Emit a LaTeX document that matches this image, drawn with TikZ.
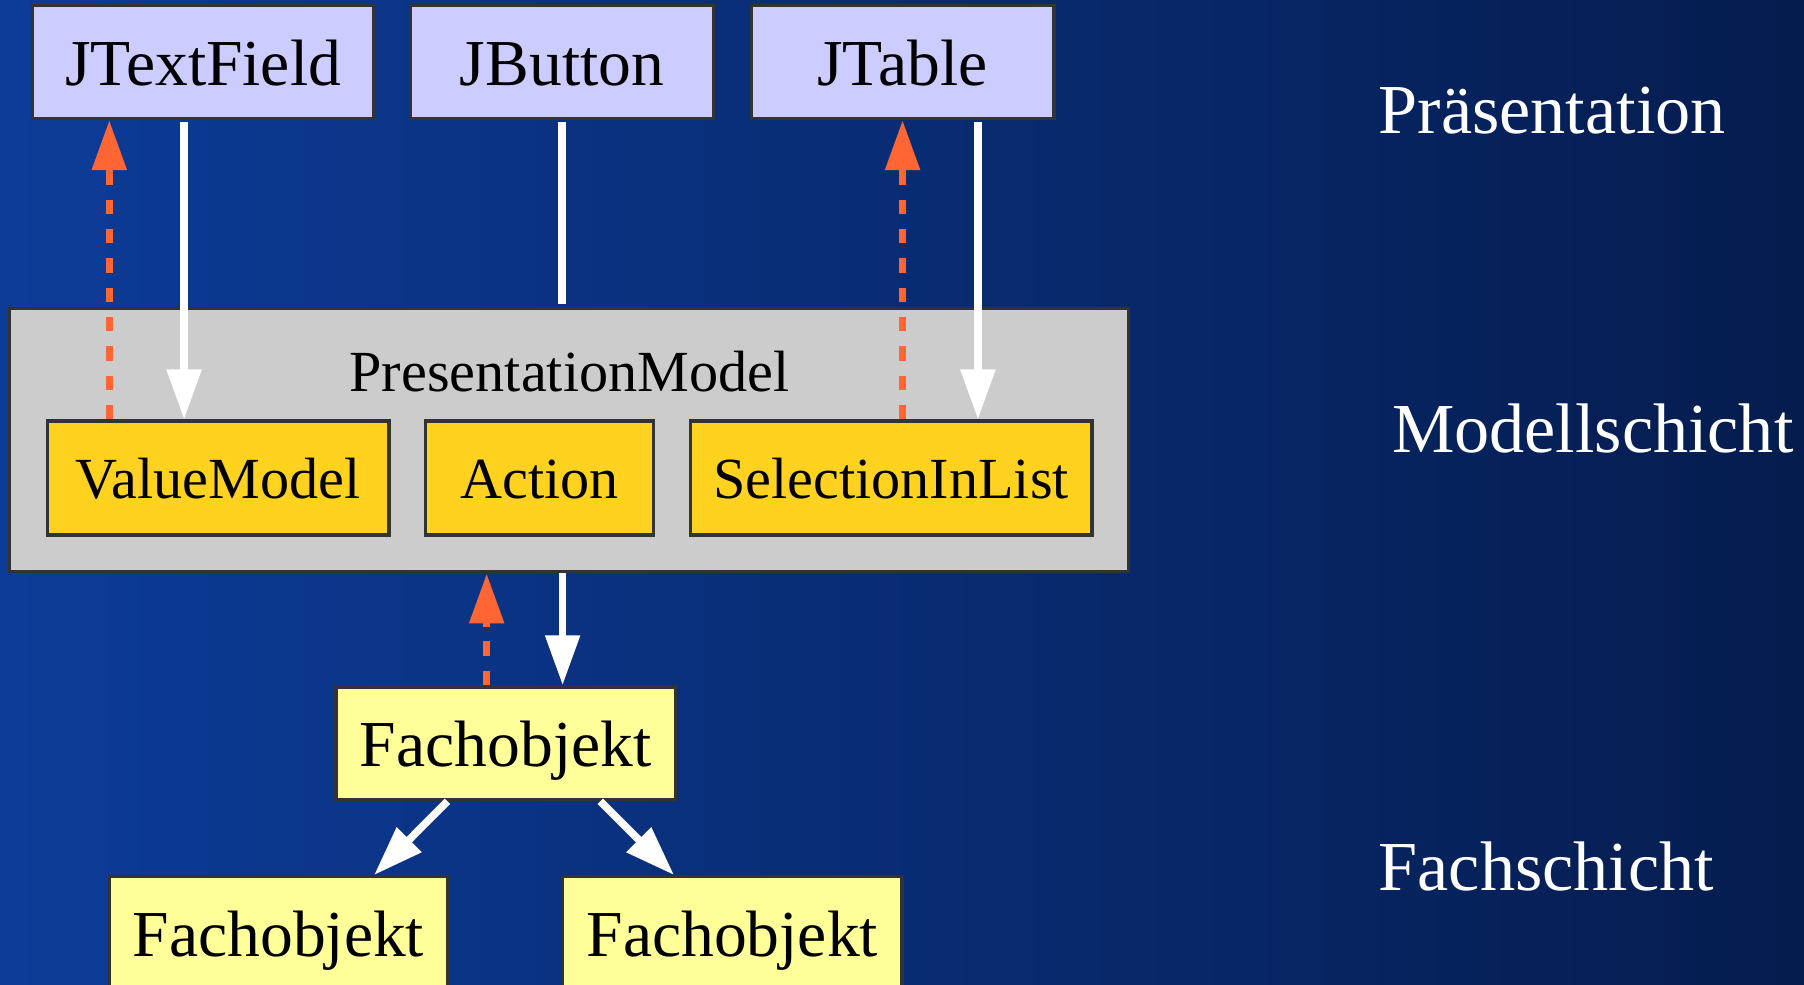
\documentclass[tikz,border=0pt]{standalone}
\usepackage{fontspec}
\setmainfont{Liberation Serif}
\usetikzlibrary{arrows.meta,calc}

\definecolor{bgleft}{RGB}{12,60,152}
\definecolor{bgright}{RGB}{5,28,78}
\definecolor{viewfill}{RGB}{204,204,255}
\definecolor{modelfill}{RGB}{204,204,204}
\definecolor{partfill}{RGB}{255,210,32}
\definecolor{domainfill}{RGB}{255,255,153}
\definecolor{boxline}{RGB}{51,51,51}
\definecolor{notifycol}{RGB}{255,102,51}

\begin{document}
\begin{tikzpicture}[x=0.5pt,y=-0.5pt,
  box/.style={draw=boxline, line width=1.45pt, inner sep=0pt},
  bigtext/.style={font=\fontsize{28.5}{30}\selectfont, text height=24pt, text depth=3.5pt},
  smalltext/.style={font=\fontsize{25.3}{27}\selectfont, text height=22pt, text depth=3.8pt},
  viewbox/.style={box, bigtext, fill=viewfill, minimum height=49pt},
  partbox/.style={box, smalltext, fill=partfill, minimum height=49.5pt},
  domainbox/.style={box, bigtext, fill=domainfill, minimum height=49pt},
  layertext/.style={text=white, inner sep=0pt, anchor=base west,
    font=\fontsize{30.5}{32}\selectfont},
  tip/.style={-{Triangle[width=14.5pt,length=21.7pt]}},
  flow/.style={draw=white, line width=3.3pt},
  flowarrow/.style={flow, tip},
  notifyarrow/.style={draw=notifycol, line width=3.3pt, tip,
    dash pattern=on 6.25pt off 6.5pt}
]
\useasboundingbox (0,0) rectangle (1568,856);
\clip (0,0) rectangle (1568,856);
\shade[left color=bgleft, right color=bgright] (0,0) rectangle (1568,856);

% presentation layer widgets
\node[viewbox, minimum width=148.5pt] (tf) at (176.5,54) {JTextField};
\node[viewbox, minimum width=131.5pt] (jb) at (488.5,54) {JButton};
\node[viewbox, minimum width=131.5pt] (jt) at (784.5,54) {JTable};

% presentation model with its parts
\node[box, fill=modelfill, minimum width=486.5pt, minimum height=114.5pt] (pm) at (494.5,382.5) {};
\node[font=\fontsize{25.3}{27}\selectfont, inner sep=0pt, anchor=base] (pmtitle) at (495,340) {PresentationModel};
\node[partbox, minimum width=148.5pt] (vm) at (189.5,415.5) {ValueModel};
\node[partbox, minimum width=99pt] (ac) at (469,415.5) {Action};
\node[partbox, minimum width=174.5pt] (sl) at (774.5,415.5) {SelectionInList};

% domain objects
\node[domainbox, minimum width=147.5pt] (fo) at (439.5,646) {Fachobjekt};
\node[domainbox, minimum width=147pt] (fl) at (242,811) {Fachobjekt};
\node[domainbox, minimum width=147.5pt] (fr) at (636.5,811) {Fachobjekt};

% layer captions
\node[layertext] (lp) at (1198,116) {Präsentation};
\node[layertext] (lm) at (1209.5,393) {Modellschicht};
\node[layertext] (lf) at (1198,774) {Fachschicht};

% JTextField <-> ValueModel
\draw[notifyarrow] ($(vm.north)+(-94.5,0)$) coordinate (n1) -- (n1 |- tf.south);
\draw[flowarrow, shorten <=1pt] ($(tf.south)+(-16.5,0)$) coordinate (w1) -- (w1 |- vm.north);
% JButton -- PresentationModel
\draw[flow, shorten <=1pt, shorten >=1pt] (jb.south) -- (jb.south |- pm.north);
% JTable <-> SelectionInList
\draw[notifyarrow] (jt.south |- sl.north) coordinate (n2) -- (jt.south);
\draw[flowarrow, shorten <=1pt] ($(jt.south)+(65.5,0)$) coordinate (w2) -- (w2 |- sl.north);
% PresentationModel <-> Fachobjekt
\draw[notifyarrow] ($(fo.north)+(-16.5,0)$) coordinate (n3) -- (n3 |- pm.south);
\draw[flowarrow] ($(pm.south)+(-5.5,0)$) coordinate (w3) -- (w3 |- fo.north);
% Fachobjekt -> Fachobjekt
\draw[flowarrow] ($(fo.south west)!0.33!(fo.south east)$) -- ($(fl.north west)!0.78!(fl.north east)$);
\draw[flowarrow] ($(fo.south west)!0.776!(fo.south east)$) -- ($(fr.north west)!0.33!(fr.north east)$);
\end{tikzpicture}
\end{document}
